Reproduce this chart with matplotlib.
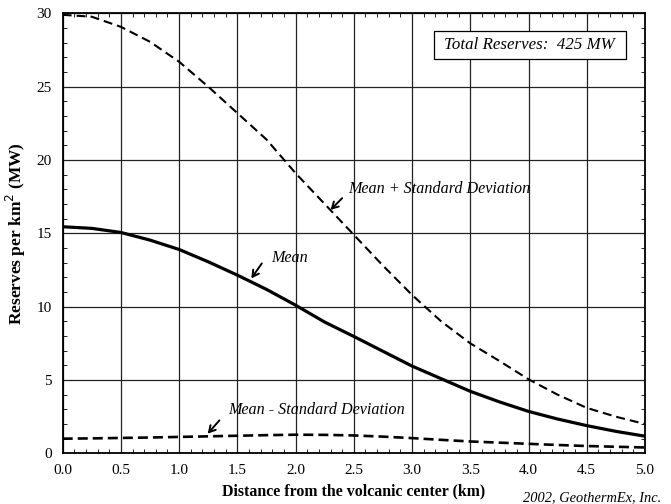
import numpy as np
import matplotlib.pyplot as plt
from matplotlib.ticker import MultipleLocator
from matplotlib.patches import Rectangle

# distance from the volcanic center (km)
dist = [0.0, 0.25, 0.5, 0.75, 1.0, 1.25, 1.5, 1.75, 2.0, 2.25, 2.5,
        2.75, 3.0, 3.25, 3.5, 3.75, 4.0, 4.25, 4.5, 4.75, 5.0]
# reserves per km2 (MW)
mean = [15.45, 15.34, 15.06, 14.54, 13.9, 13.06, 12.15, 11.18, 10.1, 8.95, 7.97,
        6.96, 5.95, 5.09, 4.23, 3.51, 2.86, 2.34, 1.89, 1.5, 1.17]
mean_plus = [29.9, 29.77, 29.08, 28.06, 26.7, 25.0, 23.2, 21.4, 19.1, 17.0, 14.9,
             12.8, 10.8, 9.0, 7.5, 6.3, 5.05, 4.0, 3.1, 2.5, 2.0]
mean_minus = [1.0, 1.02, 1.05, 1.08, 1.12, 1.16, 1.2, 1.24, 1.27, 1.26, 1.22,
              1.14, 1.04, 0.92, 0.81, 0.73, 0.65, 0.57, 0.5, 0.45, 0.4]

plt.rcParams['font.family'] = ['Liberation Serif', 'DejaVu Serif']

fig = plt.figure(figsize=(6.71, 5.04), dpi=100)
ax = fig.add_axes([0.0934, 0.1005, 0.8678, 0.873])

ax.plot(dist, mean_plus, '--k', lw=1.5, dashes=(4.3, 2.4))
ax.plot(dist, mean, '-k', lw=2.3)
ax.plot(dist, mean_minus, '--k', lw=1.9, dashes=(3.8, 1.9))

ax.set_xlim(0, 5)
ax.set_ylim(0, 30)
ax.xaxis.set_major_locator(MultipleLocator(0.5))
ax.xaxis.set_minor_locator(MultipleLocator(0.1))
ax.yaxis.set_major_locator(MultipleLocator(5))
ax.yaxis.set_minor_locator(MultipleLocator(1))
ax.xaxis.set_major_formatter(plt.FormatStrFormatter('%.1f'))
ax.tick_params(which='both', direction='in', top=True, right=True, labelsize=11)
ax.tick_params(which='major', length=0, pad=8)
ax.tick_params(which='minor', length=3)
ax.grid(True, which='major', color='#222222', lw=0.9)
for s in ax.spines.values():
    s.set_linewidth(1.3)

ax.set_xlabel('Distance from the volcanic center (km)', fontweight='bold', fontsize=11.4, labelpad=4)
ax.set_ylabel('Reserves per km$^2$ (MW)', fontweight='bold', fontsize=12.5, labelpad=6)

arr = dict(arrowstyle='->,head_length=0.45,head_width=0.25', color='k', lw=1.4,
           shrinkA=0, shrinkB=0)
ax.annotate('', xy=(2.30, 16.6), xytext=(2.40, 17.4), arrowprops=arr)
ax.text(2.45, 18.0, 'Mean + Standard Deviation', style='italic', fontsize=11.6,
        ha='left', va='center')
ax.annotate('', xy=(1.62, 11.93), xytext=(1.71, 12.95), arrowprops=arr)
ax.text(1.79, 13.3, 'Mean', style='italic', fontsize=11.6, ha='left', va='center')
ax.annotate('', xy=(1.245, 1.34), xytext=(1.346, 2.25), arrowprops=arr)
ax.text(1.417, 2.93, 'Mean - Standard Deviation', style='italic', fontsize=11.6,
        ha='left', va='center')

ax.add_patch(Rectangle((3.185, 26.88), 1.651, 1.91, fc='white', ec='k', lw=0.9, zorder=4))
ax.text(4.01, 27.85, 'Total Reserves:  425 MW', style='italic', fontsize=12.2,
        ha='center', va='center', zorder=5)

fig.text(0.985, 0.013, '2002, GeothermEx, Inc.', style='italic', fontsize=10.4,
         ha='right', va='center')

fig.savefig('out.png', dpi=100)
